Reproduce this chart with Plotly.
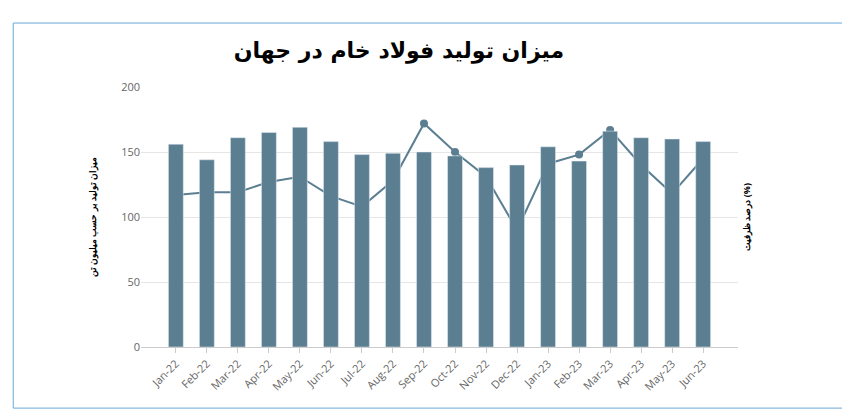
import plotly.graph_objects as go

months = ["Jan-22","Feb-22","Mar-22","Apr-22","May-22","Jun-22","Jul-22","Aug-22","Sep-22","Oct-22","Nov-22","Dec-22",
          "Jan-23","Feb-23","Mar-23","Apr-23","May-23","Jun-23"]
production = [156,144,161,165,169,158,148,149,150,147,138,140,154,143,166,161,160,158]
utilization = [117,119,119,127,131,116,108,128,172,150,131,90,141,148,167,140,118,145]

color = "#5b7f91"
fig = go.Figure()
fig.add_trace(go.Scatter(x=months, y=utilization, mode="lines+markers", yaxis="y",
                         line=dict(color=color, width=2), marker=dict(size=8, color=color)))
fig.add_trace(go.Bar(x=months, y=production, yaxis="y2", marker_color=color, width=0.48))

fig.update_layout(
    width=850, height=411, showlegend=False,
    paper_bgcolor="white", plot_bgcolor="white",
    margin=dict(l=133, r=120, t=79, b=72, autoexpand=False),
    title=dict(text="<b>میزان تولید فولاد خام در جهان</b>", x=0.46, y=0.898, xanchor="center", yanchor="middle",
               font=dict(family="DejaVu Sans", size=22, color="black")),
    xaxis=dict(tickangle=-45, tickfont=dict(size=11, color="#666"), showline=True, automargin=False,
               linecolor="#ccc", ticks="outside", tickcolor="#ccc", ticklen=5),
    yaxis=dict(side="right", range=[0, 200], showticklabels=False, showgrid=True, automargin=False,
               gridcolor="#e6e6e6", dtick=50, zeroline=False,
               title=dict(text="<b>درصد ظرفیت (%)</b>", font=dict(size=9, color="black"), standoff=5)),
    yaxis2=dict(overlaying="y", side="left", range=[0, 200], dtick=50, showgrid=False, automargin=False,
                zeroline=False, tickfont=dict(size=11, color="#666"),
                title=dict(text="<b>میزان تولید بر حسب میلیون تن</b>", font=dict(size=9, color="black"), standoff=22)),
    shapes=[dict(type="rect", xref="paper", yref="paper", x0=-0.214, x1=1.184, y0=-0.235, y1=1.246,
                 line=dict(color="#6aa8d8", width=1))],
)
fig.write_html("out.html")
